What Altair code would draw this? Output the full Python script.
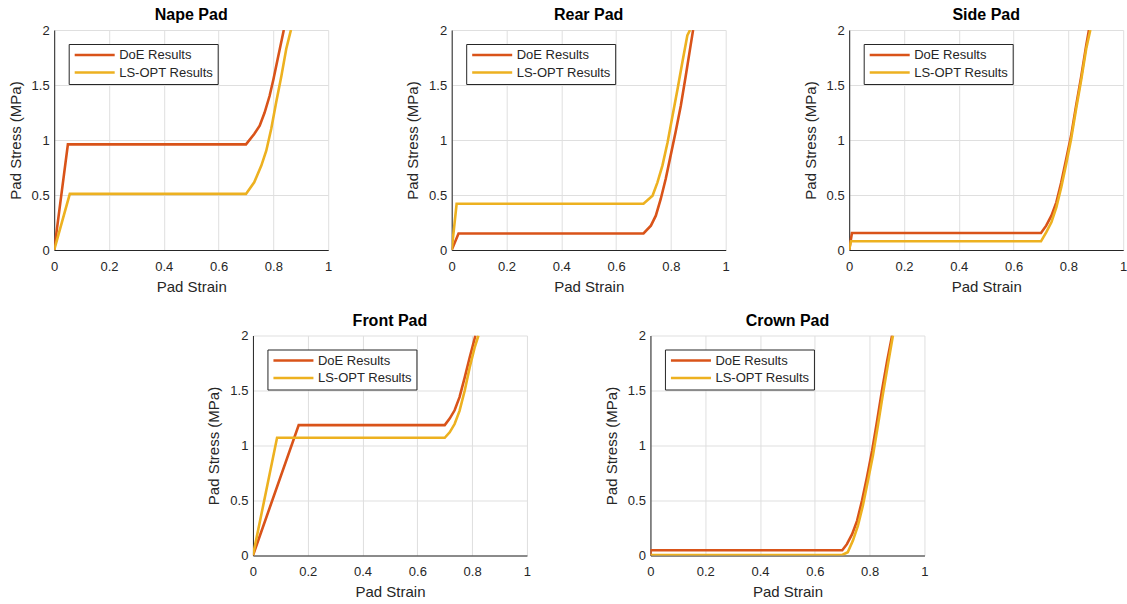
import altair as alt
import pandas as pd

SERIES = ["DoE Results", "LS-OPT Results"]
COLORS = ["#D95319", "#EDB120"]
X_TICKS = [0, 0.2, 0.4, 0.6, 0.8, 1]
Y_TICKS = [0, 0.5, 1, 1.5, 2]

NAPE_DOE_X = [0, 0.05, 0.70, 0.73, 0.75, 0.768, 0.786, 0.80, 0.816, 0.838]
NAPE_DOE_Y = [0, 0.96, 0.96, 1.055, 1.13, 1.25, 1.40, 1.55, 1.74, 2.0]
NAPE_LS_X = [0, 0.057, 0.70, 0.73, 0.756, 0.774, 0.792, 0.81, 0.829, 0.847, 0.864]
NAPE_LS_Y = [0, 0.51, 0.51, 0.615, 0.767, 0.903, 1.10, 1.34, 1.58, 1.83, 2.0]

REAR_DOE_X = [0, 0.025, 0.70, 0.727, 0.745, 0.763, 0.781, 0.799, 0.817, 0.836, 0.854, 0.872, 0.881]
REAR_DOE_Y = [0, 0.15, 0.15, 0.221, 0.312, 0.464, 0.645, 0.858, 1.07, 1.31, 1.58, 1.86, 2.0]
REAR_LS_X = [0, 0.018, 0.70, 0.733, 0.751, 0.769, 0.788, 0.806, 0.824, 0.842, 0.86, 0.87]
REAR_LS_Y = [0, 0.42, 0.42, 0.494, 0.615, 0.767, 0.979, 1.22, 1.46, 1.71, 1.95, 2.0]

SIDE_DOE_X = [0, 0.01, 0.70, 0.719, 0.738, 0.756, 0.774, 0.792, 0.81, 0.828, 0.847, 0.865, 0.875]
SIDE_DOE_Y = [0, 0.155, 0.155, 0.221, 0.312, 0.433, 0.615, 0.827, 1.04, 1.31, 1.58, 1.86, 2.0]
SIDE_LS_X = [0, 0.006, 0.70, 0.719, 0.738, 0.756, 0.774, 0.792, 0.81, 0.828, 0.847, 0.865, 0.88]
SIDE_LS_Y = [0, 0.079, 0.079, 0.161, 0.252, 0.388, 0.57, 0.782, 1.01, 1.28, 1.55, 1.83, 2.0]

FRONT_DOE_X = [0, 0.167, 0.70, 0.718, 0.736, 0.754, 0.773, 0.791, 0.812]
FRONT_DOE_Y = [0, 1.185, 1.185, 1.245, 1.32, 1.44, 1.62, 1.80, 2.0]
FRONT_LS_X = [0, 0.088, 0.70, 0.718, 0.736, 0.754, 0.773, 0.791, 0.809, 0.823]
FRONT_LS_Y = [0, 1.07, 1.07, 1.12, 1.195, 1.315, 1.50, 1.71, 1.89, 2.0]

CROWN_DOE_X = [0, 0, 0.70, 0.717, 0.736, 0.754, 0.772, 0.79, 0.809, 0.827, 0.845, 0.864, 0.882]
CROWN_DOE_Y = [0, 0.048, 0.048, 0.103, 0.194, 0.315, 0.497, 0.709, 0.952, 1.22, 1.50, 1.77, 2.0]
CROWN_LS_X = [0, 0.70, 0.72, 0.739, 0.757, 0.775, 0.793, 0.812, 0.83, 0.848, 0.867, 0.885]
CROWN_LS_Y = [0.005, 0.005, 0.03, 0.136, 0.27, 0.45, 0.67, 0.91, 1.18, 1.46, 1.74, 2.0]

FONT = "Liberation Sans"
TXT = "#262626"


def panel(title, dx, dy, lx, ly):
    rows = []
    for name, xs, ys in [(SERIES[0], dx, dy), (SERIES[1], lx, ly)]:
        for i, (a, b) in enumerate(zip(xs, ys)):
            rows.append({"series": name, "x": a, "y": b, "i": i})
    df = pd.DataFrame(rows)
    return (
        alt.Chart(df, title=alt.Title(title))
        .mark_line(strokeWidth=2.6, clip=True)
        .encode(
            x=alt.X("x:Q", title="Pad Strain",
                    scale=alt.Scale(domain=[0, 1], nice=False, zero=False),
                    axis=alt.Axis(values=X_TICKS, format="~g", labelFlush=False)),
            y=alt.Y("y:Q", title="Pad Stress (MPa)",
                    scale=alt.Scale(domain=[0, 2], nice=False),
                    axis=alt.Axis(values=Y_TICKS, format="~g")),
            color=alt.Color("series:N",
                            scale=alt.Scale(domain=SERIES, range=COLORS),
                            legend=alt.Legend(title=None, orient="none",
                                              legendX=14.5, legendY=14)),
            order=alt.Order("i:Q"),
        )
        .properties(width=274, height=220)
    )


top = alt.hconcat(
    panel("Nape Pad", NAPE_DOE_X, NAPE_DOE_Y, NAPE_LS_X, NAPE_LS_Y),
    panel("Rear Pad", REAR_DOE_X, REAR_DOE_Y, REAR_LS_X, REAR_LS_Y),
    panel("Side Pad", SIDE_DOE_X, SIDE_DOE_Y, SIDE_LS_X, SIDE_LS_Y),
    spacing=72.5,
).resolve_scale(color="independent").resolve_legend(color="independent")
bottom = alt.hconcat(
    panel("Front Pad", FRONT_DOE_X, FRONT_DOE_Y, FRONT_LS_X, FRONT_LS_Y),
    panel("Crown Pad", CROWN_DOE_X, CROWN_DOE_Y, CROWN_LS_X, CROWN_LS_Y),
    spacing=72.5,
).resolve_scale(color="independent").resolve_legend(color="independent")

chart = (
    alt.vconcat(top, bottom, spacing=18.5, center=True)
    .resolve_scale(color="independent")
    .resolve_legend(color="independent")
    .properties(padding={"left": 8, "top": 7, "right": 0, "bottom": 0}, background="white")
    .configure_view(stroke=None)
    .configure_title(font=FONT, fontSize=16, fontWeight="bold", color="#000000", offset=1)
    .configure_axis(
        labelFont=FONT, labelFontSize=13, labelColor=TXT,
        titleFont=FONT, titleFontSize=15, titleFontWeight="normal", titleColor=TXT,
        domainColor=TXT, domainWidth=1, ticks=False,
        gridColor="#dfdfdf", gridWidth=1,
    )
    .configure_axisX(labelPadding=10, titlePadding=6)
    .configure_axisY(labelPadding=5, titlePadding=8)
    .configure_legend(
        labelFont=FONT, labelFontSize=13, labelColor=TXT,
        symbolType="stroke", symbolSize=1600, symbolStrokeWidth=2.6,
        strokeColor=TXT, fillColor="white", padding=4.5, rowPadding=3.5,
        clipHeight=13, labelOffset=3, labelLimit=200,
    )
)

chart.save("out.html", embed_options={"renderer": "svg", "actions": False})
